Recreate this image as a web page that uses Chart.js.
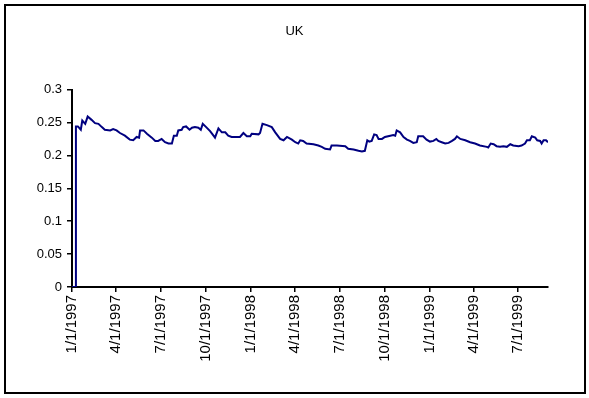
<!DOCTYPE html>
<html>
<head>
<meta charset="utf-8">
<script src="https://cdn.jsdelivr.net/npm/chart.js@4.4.0/dist/chart.umd.min.js"></script>
<style>
  html, body { margin: 0; padding: 0; background: #fff; }
  #wrap { width: 589px; height: 398px; position: relative; }
</style>
</head>
<body>
<div id="wrap"><canvas id="ukChart"></canvas></div>
<script>
// x = days counted from 1/1/1997
const days = [0,7,8,12,18,21,27,32,40,47,
  54,61,67,78,84,91,98,108,118,125,
  132,137,139,146,153,163,170,176,183,190,
  197,204,208,214,217,224,227,233,240,245,
  251,258,263,267,274,282,289,292,299,306,
  313,319,326,333,343,350,357,364,367,381,
  384,389,398,408,415,425,432,439,449,456,
  462,466,472,479,493,503,510,517,527,530,
  541,558,564,575,585,592,598,603,607,612,
  617,622,626,633,639,650,656,660,663,670,
  677,684,690,697,704,707,717,724,731,738,
  744,748,755,762,769,776,782,786,793,803,
  813,823,833,847,850,855,861,867,874,881,
  888,895,901,912,918,925,929,935,939,946,
  950,956,959,963,968,972];

const values = [0,0,0.244,0.244,0.239,0.253,0.248,0.259,0.254,0.249,
  0.248,0.243,0.239,0.238,0.240,0.238,0.234,0.230,0.224,0.223,
  0.228,0.227,0.238,0.238,0.233,0.227,0.222,0.222,0.225,0.220,
  0.218,0.218,0.230,0.230,0.238,0.239,0.243,0.244,0.239,0.242,
  0.243,0.242,0.239,0.248,0.243,0.237,0.230,0.227,0.241,0.235,
  0.235,0.230,0.228,0.228,0.228,0.234,0.229,0.229,0.233,0.232,
  0.234,0.248,0.246,0.243,0.235,0.225,0.223,0.228,0.224,0.220,
  0.218,0.223,0.222,0.218,0.217,0.215,0.213,0.210,0.209,0.215,
  0.215,0.214,0.210,0.209,0.207,0.206,0.207,0.223,0.221,0.222,
  0.232,0.231,0.225,0.225,0.228,0.230,0.231,0.230,0.238,0.235,
  0.228,0.224,0.222,0.219,0.220,0.229,0.229,0.224,0.221,0.222,
  0.225,0.222,0.220,0.218,0.219,0.222,0.225,0.229,0.225,0.223,
  0.220,0.218,0.215,0.213,0.212,0.218,0.217,0.214,0.213,0.214,
  0.213,0.217,0.215,0.214,0.215,0.218,0.223,0.223,0.229,0.227,
  0.223,0.222,0.218,0.223,0.223,0.220];

const tickDays = [0, 90, 181, 273, 365, 455, 546, 638, 730, 820, 911];
const tickLabels = ['1/1/1997', '4/1/1997', '7/1/1997', '10/1/1997', '1/1/1998', '4/1/1998',
  '7/1/1998', '10/1/1998', '1/1/1999', '4/1/1999', '7/1/1999'];
const yTickLabels = ['0', '0.05', '0.1', '0.15', '0.2', '0.25', '0.3'];

const fontFamily = "'Liberation Sans', Arial, sans-serif";

// black frame round the whole chart, title centred on the whole canvas
const frame = {
  id: 'frame',
  afterLayout(chart) {
    const t = chart.titleBlock;
    if (t) { t.left = 0; t.right = chart.width; t.width = chart.width; }
  },
  afterDraw(chart) {
    const c = chart.ctx;
    c.save();
    c.strokeStyle = '#000';
    c.lineWidth = 2;
    c.strokeRect(5, 5, 580, 388);
    c.restore();
  }
};

new Chart(document.getElementById('ukChart'), {
  type: 'line',
  data: {
    datasets: [{
      data: days.map((d, i) => ({ x: d, y: values[i] })),
      borderColor: '#000080',
      borderWidth: 2,
      pointRadius: 0,
      tension: 0
    }]
  },
  options: {
    responsive: true,
    maintainAspectRatio: false,
    animation: false,
    layout: { padding: { left: 0, right: 41, top: 0, bottom: 0 } },
    plugins: {
      legend: { display: false },
      tooltip: { enabled: false },
      title: {
        display: true,
        text: 'UK',
        color: '#000',
        font: { size: 13, family: fontFamily, weight: 'normal' },
        padding: { top: 24, bottom: 50 }
      }
    },
    scales: {
      x: {
        type: 'linear',
        min: 0,
        max: 972,
        afterBuildTicks: s => { s.ticks = tickDays.map(v => ({ value: v })); },
        afterFit: s => { s.height = 111; },
        grid: { drawOnChartArea: false, tickLength: 5, color: '#000', lineWidth: 1.5 },
        border: { color: '#000', width: 2 },
        ticks: {
          autoSkip: false,
          minRotation: 90,
          maxRotation: 90,
          padding: 3,
          color: '#000',
          font: { size: 15, family: fontFamily },
          callback: (v, i) => tickLabels[i]
        }
      },
      y: {
        min: 0,
        max: 0.3,
        afterFit: s => { s.width = 72; },
        grid: { drawOnChartArea: false, tickLength: 5, color: '#000', lineWidth: 1.5 },
        border: { color: '#000', width: 2 },
        ticks: {
          stepSize: 0.05,
          padding: 5,
          color: '#000',
          font: { size: 13, family: fontFamily },
          callback: (v, i) => yTickLabels[i]
        }
      }
    }
  },
  plugins: [frame]
});
</script>
</body>
</html>
